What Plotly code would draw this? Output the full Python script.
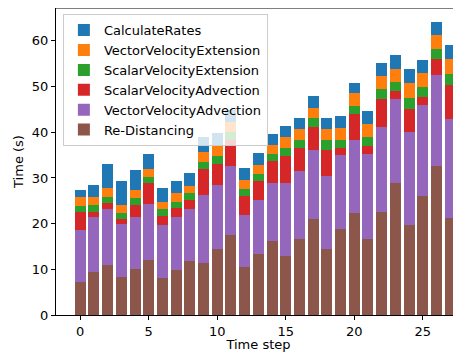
import plotly.graph_objects as go

steps = list(range(28))
re_distancing = [7.3, 9.5, 10.9, 8.4, 10.1, 12.1, 8.2, 9.9, 11.8, 11.4, 14.5, 17.5, 10.4, 13.4,
                 16.2, 12.9, 16.6, 21.0, 14.5, 18.8, 22.3, 16.6, 22.6, 28.8, 19.6, 26.1, 32.7, 21.3]
vector_velocity_advection = [11.4, 12.0, 12.3, 11.6, 11.4, 12.3, 11.5, 11.6, 11.4, 14.9, 14.0, 15.2, 11.5, 11.8,
                             12.6, 15.9, 14.9, 15.2, 16.0, 16.2, 16.1, 18.7, 18.6, 18.5, 20.5, 19.9, 19.9, 21.5]
scalar_velocity_advection = [3.9, 1.1, 1.3, 1.0, 2.6, 4.4, 2.0, 2.0, 2.0, 5.7, 4.6, 5.6, 4.2, 4.1,
                             4.9, 6.1, 5.1, 5.0, 5.7, 1.6, 5.7, 1.8, 6.1, 1.7, 5.0, 1.7, 3.5, 7.6]
scalar_velocity_extension = [1.3, 1.5, 1.3, 1.4, 1.5, 1.4, 1.4, 1.3, 1.4, 1.5, 1.7, 1.8, 1.5, 1.6,
                             1.6, 1.7, 1.8, 2.0, 2.0, 1.8, 1.7, 1.9, 2.2, 2.1, 2.5, 2.2, 2.1, 2.4]
vector_velocity_extension = [2.0, 1.8, 2.1, 1.7, 1.8, 1.8, 1.7, 1.8, 1.7, 2.2, 2.2, 2.2, 2.0, 1.9,
                             1.9, 2.3, 2.3, 2.2, 2.5, 2.6, 2.7, 2.9, 2.9, 2.8, 3.2, 3.1, 3.1, 3.3]
calculate_rates = [1.5, 2.6, 5.2, 5.2, 4.3, 3.3, 3.0, 2.7, 2.8, 3.3, 2.9, 2.6, 2.6, 2.7,
                   2.4, 2.5, 2.5, 2.6, 2.5, 2.6, 2.3, 2.8, 2.8, 3.0, 3.1, 2.8, 2.9, 3.0]

series = [
    ("Re-Distancing", re_distancing, "#8c564b"),
    ("VectorVelocityAdvection", vector_velocity_advection, "#9467bd"),
    ("ScalarVelocityAdvection", scalar_velocity_advection, "#d62728"),
    ("ScalarVelocityExtension", scalar_velocity_extension, "#2ca02c"),
    ("VectorVelocityExtension", vector_velocity_extension, "#ff7f0e"),
    ("CalculateRates", calculate_rates, "#1f77b4"),
]

fig = go.Figure()
n = len(series)
for i, (name, vals, color) in enumerate(series):
    fig.add_trace(go.Bar(x=steps, y=vals, name=name, marker_color=color,
                         marker_line_width=0, legendgroup=name, legendrank=n - i))

font = dict(family="DejaVu Sans", size=13, color="black")
fig.update_layout(
    width=453, height=344,
    margin=dict(l=48, r=0, t=0, b=37),
    barmode="stack", bargap=0.2,
    plot_bgcolor="white", paper_bgcolor="white",
    font=font,
    showlegend=True,
    legend=dict(x=0.017, y=0.980, xanchor="left", yanchor="top",
                traceorder="grouped", tracegroupgap=0,
                bgcolor="rgba(255,255,255,0.8)", bordercolor="#cccccc", borderwidth=1,
                font=font, itemwidth=30),
    xaxis=dict(range=[-1.77, 27.79], tickmode="array", tickvals=[0, 5, 10, 15, 20, 25],
               showline=True, linecolor="black", linewidth=1, ticks="outside",
               ticklen=4, tickcolor="black", showgrid=False, zeroline=False,
               automargin=False,
               title=dict(text="Time step", font=font, standoff=1)),
    yaxis=dict(range=[0, 67.2], tickmode="array", tickvals=[0, 10, 20, 30, 40, 50, 60],
               showline=True, linecolor="black", linewidth=1, ticks="outside",
               ticklen=4, tickcolor="black", showgrid=False, zeroline=False,
               automargin=False,
               title=dict(text="Time (s)", font=font, standoff=5)),
    shapes=[dict(type="line", xref="paper", yref="paper", x0=0, x1=1, y0=1, y1=1,
                 line=dict(color="black", width=1))],
)

fig.write_html("out.html")
